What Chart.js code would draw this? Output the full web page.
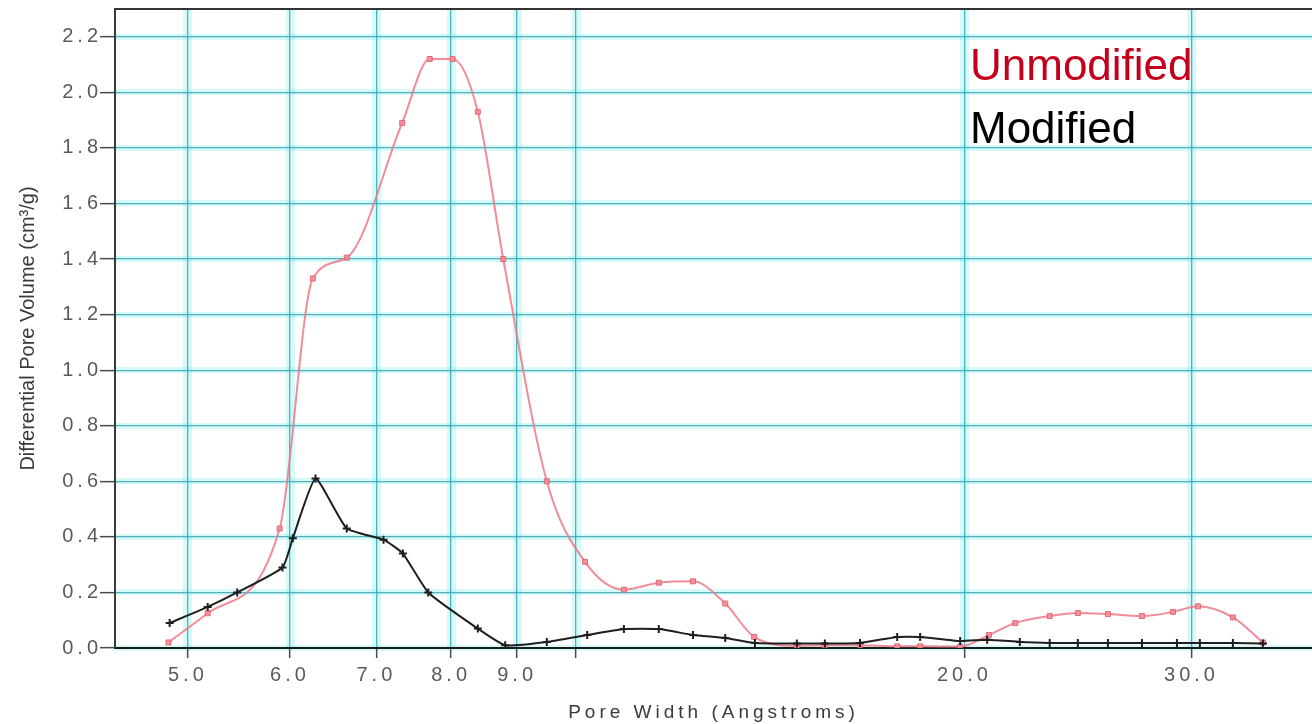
<!DOCTYPE html>
<html>
<head>
<meta charset="utf-8">
<script src="https://cdn.jsdelivr.net/npm/chart.js@4.4.1/dist/chart.umd.min.js"></script>
<style>
  html, body { margin: 0; padding: 0; background: #ffffff; }
  #wrap { width: 1312px; height: 724px; }
</style>
</head>
<body>
<div id="wrap"><canvas id="poreChart" width="1312" height="724"></canvas></div>
<script>
// Pore size distribution: differential pore volume vs pore width
const seriesNames = ['Unmodified', 'Modified'];

const unmodWidth  = [4.83, 5.18, 5.89, 6.25, 6.64, 7.33, 7.70, 8.02, 8.39, 8.78, 9.49, 10.16, 10.89, 11.59, 12.32, 13.05, 13.74, 14.83, 15.59, 16.60, 17.74, 18.48, 19.85, 20.90, 21.90, 23.29, 24.49, 25.84, 27.46, 29.02, 30.35, 32.30, 34.08];
const unmodVolume = [0.02, 0.125, 0.43, 1.33, 1.405, 1.89, 2.12, 2.12, 1.93, 1.40, 0.60, 0.31, 0.21, 0.235, 0.24, 0.16, 0.04, 0.008, 0.01, 0.01, 0.006, 0.006, 0.005, 0.047, 0.09, 0.115, 0.126, 0.122, 0.115, 0.13, 0.15, 0.11, 0.02];

const modWidth  = [4.84, 5.18, 5.46, 5.92, 6.03, 6.28, 6.64, 7.09, 7.34, 7.68, 8.39, 8.81, 9.49, 10.20, 10.89, 11.59, 12.32, 13.05, 13.76, 14.83, 15.59, 16.60, 17.74, 18.48, 19.85, 20.83, 22.08, 23.29, 24.49, 25.84, 27.46, 29.23, 30.45, 32.30, 34.08];
const modVolume = [0.09, 0.148, 0.20, 0.29, 0.395, 0.61, 0.43, 0.39, 0.34, 0.20, 0.07, 0.01, 0.022, 0.047, 0.068, 0.068, 0.047, 0.036, 0.018, 0.016, 0.016, 0.018, 0.04, 0.04, 0.025, 0.03, 0.022, 0.018, 0.018, 0.018, 0.018, 0.018, 0.018, 0.018, 0.016];

const xTickValues = [5, 6, 7, 8, 9, 10, 20, 30];
const xTickLabels = ['5.0', '6.0', '7.0', '8.0', '9.0', '', '20.0', '30.0'];
const yTickValues = [0, 0.2, 0.4, 0.6, 0.8, 1.0, 1.2, 1.4, 1.6, 1.8, 2.0, 2.2];

const xTitle = 'Pore Width (Angstroms)';
const yTitle = 'Differential Pore Volume (cm\u00B3/g)';

const X_MIN = 4.39, X_MAX = 37.2, Y_MIN = 0, Y_MAX = 2.3;

const toPoints = (xs, ys) => xs.map((x, i) => ({ x: x, y: ys[i] }));
const setXTicks = (scale) => { scale.ticks = xTickValues.map(v => ({ value: v })); };
const setYTicks = (scale) => { scale.ticks = yTickValues.map(v => ({ value: v })); };
const noSidePad = (s) => { s.paddingLeft = 0; s.paddingRight = 0; s.paddingTop = 0; s.paddingBottom = 0; };

// Wide axis lettering for ticks and the x title; normal spacing elsewhere
const axisTextSpacing = {
  id: 'axisTextSpacing',
  beforeDraw(chart) { chart.ctx.letterSpacing = '4px'; },
  beforeDatasetsDraw(chart) { chart.ctx.letterSpacing = '0px'; }
};

// Rotated y-axis title
const yTitlePlugin = {
  id: 'yTitlePlugin',
  afterDraw(chart) {
    const ctx = chart.ctx, ca = chart.chartArea;
    ctx.save();
    ctx.letterSpacing = '0px';
    ctx.translate(28, (ca.top + ca.bottom) / 2);
    ctx.rotate(-Math.PI / 2);
    ctx.textAlign = 'center';
    ctx.textBaseline = 'middle';
    ctx.font = '20px "Liberation Sans", Arial, sans-serif';
    ctx.fillStyle = '#3a3a3a';
    ctx.fillText(yTitle, 0, 0);
    ctx.restore();
  }
};

// Series names written inside the plot, top right
const seriesNamePlugin = {
  id: 'seriesNamePlugin',
  afterDraw(chart) {
    const ctx = chart.ctx, ca = chart.chartArea;
    const colors = ['#c4001c', '#000000'];
    ctx.save();
    ctx.letterSpacing = '0px';
    ctx.font = '44px "Liberation Sans", Arial, sans-serif';
    ctx.textAlign = 'left';
    ctx.textBaseline = 'alphabetic';
    chart.data.datasets.forEach((ds, i) => {
      ctx.fillStyle = colors[i];
      ctx.fillText(ds.label, ca.left + 855, ca.top + 71 + i * 63);
    });
    ctx.restore();
  }
};

const tickFont = { family: '"Liberation Sans", Arial, sans-serif', size: 20 };

new Chart(document.getElementById('poreChart'), {
  type: 'line',
  data: {
    datasets: [
      {
        label: seriesNames[0],
        data: toPoints(unmodWidth, unmodVolume),
        borderColor: 'rgba(240,120,135,0.85)',
        borderWidth: 2,
        backgroundColor: 'rgba(236,110,125,0.9)',
        pointStyle: 'rect',
        pointRadius: 3.5,
        pointBorderColor: 'rgba(225,95,110,0.9)',
        pointBackgroundColor: 'rgba(245,140,150,0.9)',
        pointBorderWidth: 1,
        cubicInterpolationMode: 'monotone',
        fill: false,
        order: 2
      },
      {
        label: seriesNames[1],
        data: toPoints(modWidth, modVolume),
        borderColor: '#1e1e1e',
        borderWidth: 2,
        backgroundColor: '#1e1e1e',
        pointStyle: 'cross',
        pointRadius: 4,
        pointBorderColor: '#1e1e1e',
        pointBorderWidth: 2,
        tension: 0.15,
        fill: false,
        order: 1
      }
    ]
  },
  options: {
    responsive: false,
    animation: false,
    devicePixelRatio: 1,
    layout: { autoPadding: false, padding: { top: 9, right: 0, bottom: 0, left: 0 } },
    plugins: {
      legend: { display: false },
      tooltip: { enabled: false }
    },
    scales: {
      x: {
        type: 'logarithmic',
        position: 'bottom',
        min: X_MIN,
        max: X_MAX,
        afterBuildTicks: setXTicks,
        afterFit: (s) => { s.height = 76; noSidePad(s); },
        grid: {
          color: 'rgba(60,165,180,0.85)',
          lineWidth: 1.3,
          drawTicks: true,
          tickLength: 10,
          tickColor: '#4a4a4a',
          tickWidth: 1.5
        },
        border: { display: true, color: '#1a1a1a', width: 2 },
        ticks: {
          autoSkip: false,
          maxRotation: 0,
          minRotation: 0,
          padding: 5,
          color: '#5a5a5a',
          font: tickFont,
          callback: (v, i) => xTickLabels[i]
        },
        title: {
          display: true,
          text: xTitle,
          color: '#3a3a3a',
          font: { family: '"Liberation Sans", Arial, sans-serif', size: 19 },
          padding: { top: 0, bottom: 0 }
        }
      },
      xGlow: {
        type: 'logarithmic',
        position: 'bottom',
        min: X_MIN,
        max: X_MAX,
        afterBuildTicks: setXTicks,
        afterFit: (s) => { s.height = 0; noSidePad(s); },
        grid: { color: 'rgba(120,235,240,0.3)', lineWidth: 9, drawTicks: false, z: -2 },
        border: { display: false },
        ticks: { display: false }
      },
      xTop: {
        type: 'logarithmic',
        position: 'top',
        min: X_MIN,
        max: X_MAX,
        afterBuildTicks: setXTicks,
        afterFit: (s) => { s.height = 0; noSidePad(s); },
        grid: { display: false },
        border: { display: true, color: '#333333', width: 2 },
        ticks: { display: false }
      },
      y: {
        type: 'linear',
        position: 'left',
        min: Y_MIN,
        max: Y_MAX,
        afterBuildTicks: setYTicks,
        afterFit: (s) => { s.width = 115; noSidePad(s); },
        grid: {
          color: 'rgba(60,165,180,0.85)',
          lineWidth: 1.3,
          drawTicks: true,
          tickLength: 15,
          tickColor: '#4a4a4a',
          tickWidth: 1.5
        },
        border: { display: true, color: '#3a3a3a', width: 2 },
        ticks: {
          padding: -2,
          color: '#5a5a5a',
          font: tickFont,
          callback: (v) => Number(v).toFixed(1)
        }
      },
      yGlow: {
        type: 'linear',
        position: 'left',
        min: Y_MIN,
        max: Y_MAX,
        afterBuildTicks: setYTicks,
        afterFit: (s) => { s.width = 0; noSidePad(s); },
        grid: { color: 'rgba(120,235,240,0.3)', lineWidth: 6, drawTicks: false, z: -2 },
        border: { display: false },
        ticks: { display: false }
      }
    }
  },
  plugins: [axisTextSpacing, yTitlePlugin, seriesNamePlugin]
});
</script>
</body>
</html>
